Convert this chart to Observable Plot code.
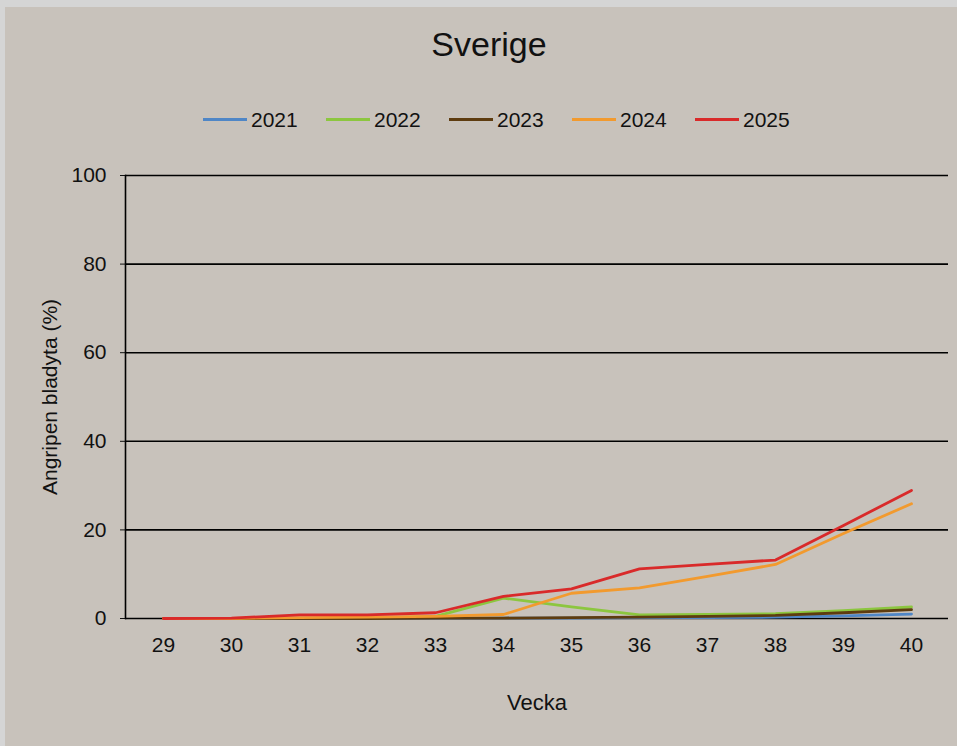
<!DOCTYPE html>
<html>
<head>
<meta charset="utf-8">
<script src="https://cdn.jsdelivr.net/npm/d3@7"></script>
<script src="https://cdn.jsdelivr.net/npm/@observablehq/plot@0.6"></script>
<style>
  html, body { margin: 0; padding: 0; }
  body { width: 957px; height: 746px; overflow: hidden; background: #d5d5d5; position: relative;
         font-family: "Liberation Sans", Arial, sans-serif; color: #111; }
  #panel { position: absolute; left: 5px; top: 7px; width: 952px; height: 739px; background: #c8c2bb; }
  #title { position: absolute; left: 489px; top: 27px; transform: translateX(-50%);
           font-size: 34px; line-height: 34px; white-space: nowrap; }
  #legend { position: absolute; left: 203px; top: 109px; display: flex; font-size: 21px; line-height: 21px; }
  .item { display: flex; align-items: center; width: 123px; }
  .swatch { width: 44px; height: 3px; margin-right: 4px; }
  #chart { position: absolute; left: 0; top: 150px; }
</style>
</head>
<body>
<div id="panel"></div>
<div id="title">Sverige</div>
<div id="legend"></div>
<div id="chart"></div>
<script>
const weeks = ["29","30","31","32","33","34","35","36","37","38","39","40"];
const years = ["2021","2022","2023","2024","2025"];
const colors = ["#4f86c6","#8cc63f","#5e3c0f","#f29a2e","#d92a2a"];
const v2021 = [0, 0, 0, 0, 0.1, 0.1, 0.1, 0.2, 0.2, 0.3, 0.6, 1.0];
const v2022 = [0, 0, 0, 0, 0.5, 4.6, 2.6, 0.8, 0.9, 1.1, 1.8, 2.6];
const v2023 = [0, 0, 0, 0, 0.1, 0.1, 0.2, 0.3, 0.5, 0.7, 1.3, 2.0];
const v2024 = [0, 0, 0.2, 0.3, 0.5, 0.9, 5.7, 6.9, 9.5, 12.2, 19.2, 25.9];
const v2025 = [0, 0.1, 0.8, 0.8, 1.3, 5.0, 6.7, 11.2, 12.2, 13.2, 21.0, 28.9];
const yTicks = [0, 20, 40, 60, 80, 100];
const xLabel = "Vecka";
const yLabel = "Angripen bladyta (%)";

const series = [v2021, v2022, v2023, v2024, v2025];
const data = [];
years.forEach((yr, i) => weeks.forEach((w, j) => data.push({year: yr, week: w, value: series[i][j]})));

// legend
const legend = document.getElementById("legend");
years.forEach((yr, i) => {
  const it = document.createElement("div");
  it.className = "item";
  const sw = document.createElement("span");
  sw.className = "swatch";
  sw.style.background = colors[i];
  const tx = document.createElement("span");
  tx.textContent = yr;
  it.appendChild(sw); it.appendChild(tx);
  legend.appendChild(it);
});

const chart = Plot.plot({
  width: 957,
  height: 590,
  marginLeft: 125,
  marginRight: 9,
  marginTop: 25,
  marginBottom: 122,
  style: { background: "transparent", fontFamily: "'Liberation Sans', Arial, sans-serif", fontSize: "21px", color: "#111" },
  x: { type: "point", domain: weeks, padding: 0.5, label: null, tickSize: 0, tickPadding: 19 },
  y: { domain: [0, 100], ticks: yTicks, label: null, tickSize: 5, tickPadding: 14 },
  color: { domain: years, range: colors },
  marks: [
    Plot.ruleY(yTicks, { stroke: "#000", strokeWidth: 1.6 }),
    Plot.frame({ anchor: "left", stroke: "#000", strokeWidth: 1.6 }),
    Plot.line(data, { x: "week", y: "value", stroke: "year", strokeWidth: 2.8 }),
    Plot.text([xLabel], { frameAnchor: "bottom", dy: 91, fontSize: 22, fill: "#111" }),
    Plot.text([yLabel], { frameAnchor: "left", dx: -75, rotate: -90, textAnchor: "middle", fontSize: 21, fill: "#111" })
  ]
});
document.getElementById("chart").appendChild(chart);
</script>
</body>
</html>
